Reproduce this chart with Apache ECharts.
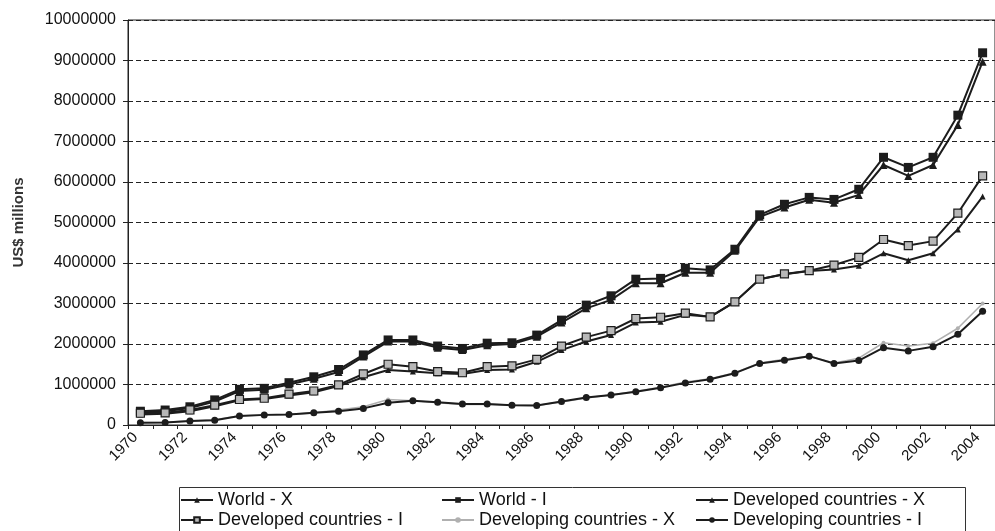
<!DOCTYPE html>
<html>
<head>
<meta charset="utf-8">
<script src="https://cdn.jsdelivr.net/npm/echarts@6/dist/echarts.min.js"></script>
<style>
  html, body { margin: 0; padding: 0; background: #ffffff; }
  #chart { width: 995px; height: 531px; }
</style>
</head>
<body>
<div id="chart"></div>
<script>
// Years on the category axis
const years = [];
for (let y = 1970; y <= 2004; y++) years.push(String(y));

// Trade flows, US$ millions (X = exports, I = imports)
const worldX = [310000, 340000, 420000, 580000, 840000, 870000, 1000000, 1140000, 1310000, 1690000,
  2060000, 2060000, 1910000, 1850000, 1970000, 2000000, 2180000, 2530000, 2880000, 3090000,
  3500000, 3500000, 3760000, 3760000, 4300000, 5140000, 5370000, 5560000, 5490000, 5680000,
  6420000, 6150000, 6420000, 7410000, 8970000];
const worldI = [340000, 370000, 450000, 620000, 880000, 905000, 1045000, 1190000, 1370000, 1730000,
  2100000, 2100000, 1950000, 1890000, 2020000, 2030000, 2220000, 2590000, 2960000, 3190000,
  3600000, 3620000, 3870000, 3830000, 4340000, 5190000, 5450000, 5620000, 5570000, 5820000,
  6610000, 6360000, 6610000, 7650000, 9190000];
const developedX = [260000, 280000, 340000, 460000, 610000, 640000, 730000, 810000, 960000, 1180000,
  1360000, 1320000, 1280000, 1260000, 1360000, 1370000, 1560000, 1850000, 2060000, 2220000,
  2530000, 2550000, 2720000, 2670000, 3040000, 3600000, 3720000, 3800000, 3840000, 3930000,
  4240000, 4070000, 4240000, 4830000, 5640000];
const developedI = [290000, 300000, 370000, 490000, 630000, 660000, 760000, 840000, 990000, 1260000,
  1500000, 1440000, 1320000, 1290000, 1440000, 1460000, 1620000, 1950000, 2170000, 2330000,
  2630000, 2660000, 2760000, 2670000, 3040000, 3600000, 3730000, 3810000, 3950000, 4140000,
  4580000, 4430000, 4540000, 5230000, 6150000];
const developingX = [60000, 65000, 100000, 130000, 230000, 240000, 260000, 300000, 370000, 450000,
  630000, 600000, 550000, 510000, 510000, 490000, 480000, 570000, 670000, 740000,
  830000, 930000, 1060000, 1140000, 1290000, 1530000, 1620000, 1700000, 1530000, 1650000,
  2030000, 1950000, 2020000, 2390000, 3000000];
const developingI = [57000, 60000, 100000, 120000, 220000, 250000, 260000, 300000, 340000, 410000,
  550000, 600000, 560000, 520000, 520000, 490000, 480000, 580000, 680000, 740000,
  820000, 920000, 1040000, 1130000, 1280000, 1520000, 1600000, 1700000, 1520000, 1590000,
  1910000, 1830000, 1930000, 2240000, 2810000];

// Value axis range
const yMin = 0, yMax = 10000000, yStep = 1000000;

const FONT = "'Liberation Sans', Arial, sans-serif";
const INK = '#1c1c1c';

function lineSeries(name, data, opts) {
  return {
    name: name,
    type: 'line',
    data: data,
    symbol: opts.symbol,
    symbolSize: opts.size,
    showAllSymbol: true,
    lineStyle: { color: opts.line || INK, width: opts.width || 2 },
    itemStyle: {
      color: opts.fill || INK,
      borderColor: opts.border || INK,
      borderWidth: opts.borderWidth || 0
    },
    emphasis: { disabled: true },
    animation: false
  };
}

const series = [
  lineSeries('World - X', worldX, { symbol: 'triangle', size: 8 }),
  lineSeries('World - I', worldI, { symbol: 'rect', size: 9 }),
  lineSeries('Developed countries - X', developedX, { symbol: 'triangle', size: 6 }),
  lineSeries('Developed countries - I', developedI, { symbol: 'rect', size: 8, fill: '#b8b8b8', border: INK, borderWidth: 1.2 }),
  lineSeries('Developing countries - X', developingX, { symbol: 'circle', size: 4, line: '#b0b0b0', fill: '#b0b0b0', border: '#b0b0b0', width: 1.6 }),
  lineSeries('Developing countries - I', developingI, { symbol: 'circle', size: 7 })
];

// Legend: three columns, two rows, each entry placed on its own
const legendCols = [180, 441, 695];
const legendRows = [491, 511];
const legends = series.map((s, i) => ({
  data: [s.name],
  left: legendCols[i % 3],
  top: legendRows[Math.floor(i / 3)],
  padding: 0,
  itemWidth: 32,
  itemHeight: 7,
  itemGap: 0,
  selectedMode: false,
  textStyle: { fontFamily: FONT, fontSize: 18, color: '#111' }
}));

const chart = echarts.init(document.getElementById('chart'), null, { renderer: 'canvas' });
chart.setOption({
  backgroundColor: '#ffffff',
  animation: false,
  grid: {
    left: 128, top: 20, width: 875, height: 405,
    show: true, borderColor: '#222', borderWidth: 1, backgroundColor: 'transparent'
  },
  legend: legends,
  xAxis: {
    type: 'category',
    data: years,
    boundaryGap: true,
    axisLine: { lineStyle: { color: '#222', width: 1 } },
    axisTick: { show: true, interval: 0, length: 4, inside: false, lineStyle: { color: '#222' } },
    axisLabel: {
      interval: 1, rotate: 45, margin: 5, padding: [0, 7, 0, 0],
      fontFamily: FONT, fontSize: 15, color: '#111'
    },
    splitLine: { show: false }
  },
  yAxis: {
    type: 'value',
    min: yMin, max: yMax, interval: yStep,
    name: 'US$ millions',
    nameLocation: 'middle',
    nameGap: 102,
    nameTextStyle: { fontFamily: FONT, fontSize: 15, fontWeight: 'bold', color: '#333' },
    axisLine: { show: true, lineStyle: { color: '#222', width: 1 } },
    axisTick: { show: true, length: 5, lineStyle: { color: '#222' } },
    axisLabel: {
      margin: 12, fontFamily: FONT, fontSize: 16, color: '#111',
      formatter: v => String(v)
    },
    splitLine: { show: true, lineStyle: { color: '#222', width: 1, type: [5, 3] } }
  },
  graphic: [{
    type: 'rect',
    left: 177, top: 485,
    shape: { width: 786, height: 44 },
    style: { fill: 'none', stroke: '#333', lineWidth: 1 },
    silent: true
  }],
  series: series
});
</script>
</body>
</html>
